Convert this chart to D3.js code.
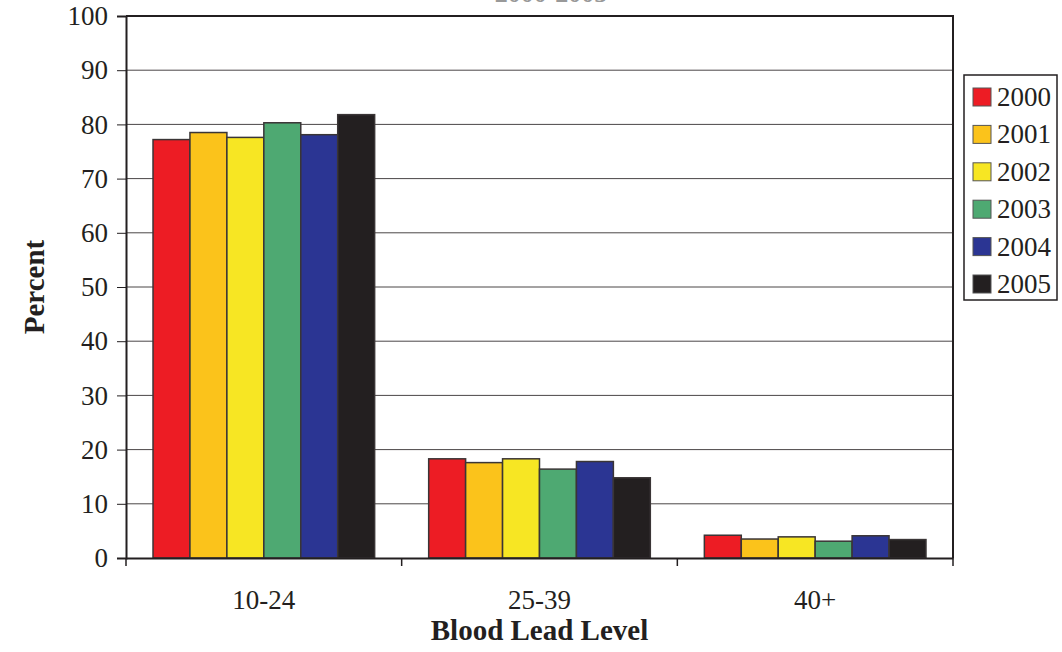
<!DOCTYPE html>
<html>
<head>
<meta charset="utf-8">
<script src="https://cdn.jsdelivr.net/npm/d3@7"></script>
<style>
  body { margin: 0; background: #fff; }
  svg text { font-family: "Liberation Serif", "Times New Roman", serif; fill: #231f20; }
</style>
</head>
<body>
<div id="chart"></div>
<script>
// 1: DATA
const categories = ["10-24", "25-39", "40+"];
const years = ["2000", "2001", "2002", "2003", "2004", "2005"];
const values2000 = [77.2, 18.3, 4.2];
const values2001 = [78.5, 17.6, 3.5];
const values2002 = [77.6, 18.3, 3.9];
const values2003 = [80.3, 16.4, 3.1];
const values2004 = [78.1, 17.8, 4.1];
const values2005 = [81.8, 14.8, 3.4];
const yTicks = [0, 10, 20, 30, 40, 50, 60, 70, 80, 90, 100];
const colors = ["#ed1c24", "#fbc31b", "#f7e623", "#4ea972", "#2b3593", "#231f20"];

const seriesValues = [values2000, values2001, values2002, values2003, values2004, values2005];

// 2: SIZES
const totalW = 1062, totalH = 652;
const margin = { top: 16, right: 109, bottom: 94, left: 126 };
const width = totalW - margin.left - margin.right;
const height = totalH - margin.top - margin.bottom;

const svg = d3.select("#chart")
    .append("svg")
    .attr("width", totalW)
    .attr("height", totalH);

// title, clipped at the very top like the source
svg.append("text")
    .attr("x", 551)
    .attr("y", 2)
    .attr("text-anchor", "middle")
    .style("font-size", "26px")
    .style("font-weight", "bold")
    .style("fill", "#999")
    .text("2000-2005");

const g = svg.append("g")
    .attr("transform", `translate(${margin.left},${margin.top})`);

// 3: SCALES
const x0 = d3.scaleBand()
    .domain(categories)
    .range([0, width])
    .padding(0);

const x1 = d3.scaleBand()
    .domain(years)
    .range([x0.bandwidth() * 0.098, x0.bandwidth() * 0.902])
    .padding(0);

const y = d3.scaleLinear()
    .domain([0, 100])
    .range([height, 0]);

const color = d3.scaleOrdinal().domain(years).range(colors);

// 4: GRIDLINES
g.append("g")
    .selectAll("line")
    .data(yTicks.slice(1, -1))
    .join("line")
    .attr("x1", 0)
    .attr("x2", width)
    .attr("y1", d => y(d))
    .attr("y2", d => y(d))
    .attr("stroke", "#4a4647")
    .attr("stroke-width", 1);

// 5: BARS
const groups = g.append("g")
    .selectAll("g")
    .data(categories)
    .join("g")
    .attr("transform", d => `translate(${x0(d)},0)`);

groups.selectAll("rect")
    .data((c, i) => years.map((yr, j) => ({ year: yr, value: seriesValues[j][i] })))
    .join("rect")
    .attr("x", d => x1(d.year))
    .attr("y", d => y(d.value))
    .attr("width", x1.bandwidth())
    .attr("height", d => y(0) - y(d.value))
    .attr("fill", d => color(d.year))
    .attr("stroke", "#3a3536")
    .attr("stroke-width", 1.5);

// frame (top and right)
g.append("path")
    .attr("d", `M0,0H${width}V${height}`)
    .attr("fill", "none")
    .attr("stroke", "#231f20")
    .attr("stroke-width", 2);

// 6: AXES
const yAxis = g.append("g")
    .call(d3.axisLeft(y).tickValues(yTicks).tickSize(9).tickPadding(9));
yAxis.attr("font-family", null).attr("font-size", null);
yAxis.select(".domain").attr("stroke", "#231f20").attr("stroke-width", 2);
yAxis.selectAll(".tick line").attr("stroke", "#231f20");
yAxis.selectAll("text")
    .style("font-size", "27px")
    .attr("fill", "#231f20");

const xAxis = g.append("g")
    .attr("transform", `translate(0,${height})`)
    .call(d3.axisBottom(x0).tickSize(0).tickPadding(32));
xAxis.attr("font-family", null).attr("font-size", null);
xAxis.select(".domain").attr("stroke", "#231f20").attr("stroke-width", 2);
xAxis.selectAll("text")
    .style("font-size", "27px")
    .attr("fill", "#231f20");

// category separator ticks
g.append("g")
    .selectAll("line")
    .data([0, 1, 2, 3])
    .join("line")
    .attr("x1", d => d * x0.step())
    .attr("x2", d => d * x0.step())
    .attr("y1", height)
    .attr("y2", height + 8)
    .attr("stroke", "#231f20")
    .attr("stroke-width", 1.5);

// 7: LABELS
svg.append("text")
    .attr("text-anchor", "middle")
    .attr("x", margin.left + width / 2)
    .attr("y", 640)
    .style("font-size", "29px")
    .style("font-weight", "bold")
    .text("Blood Lead Level");

svg.append("text")
    .attr("text-anchor", "middle")
    .attr("transform", "rotate(-90)")
    .attr("x", -(margin.top + height / 2))
    .attr("y", 44)
    .style("font-size", "29px")
    .style("font-weight", "bold")
    .text("Percent");

// 8: LEGEND
const legend = svg.append("g").attr("transform", "translate(964,75)");
legend.append("rect")
    .attr("width", 93)
    .attr("height", 225)
    .attr("fill", "#fff")
    .attr("stroke", "#231f20")
    .attr("stroke-width", 1.5);

const items = legend.selectAll(".item")
    .data(years)
    .join("g")
    .attr("class", "item")
    .attr("transform", (d, i) => `translate(9,${13 + i * 37.4})`);

items.append("rect")
    .attr("width", 18)
    .attr("height", 18)
    .attr("fill", d => color(d))
    .attr("stroke", "#555")
    .attr("stroke-width", 1);

items.append("text")
    .attr("x", 24)
    .attr("y", 18)
    .style("font-size", "27px")
    .text(d => d);
</script>
</body>
</html>
